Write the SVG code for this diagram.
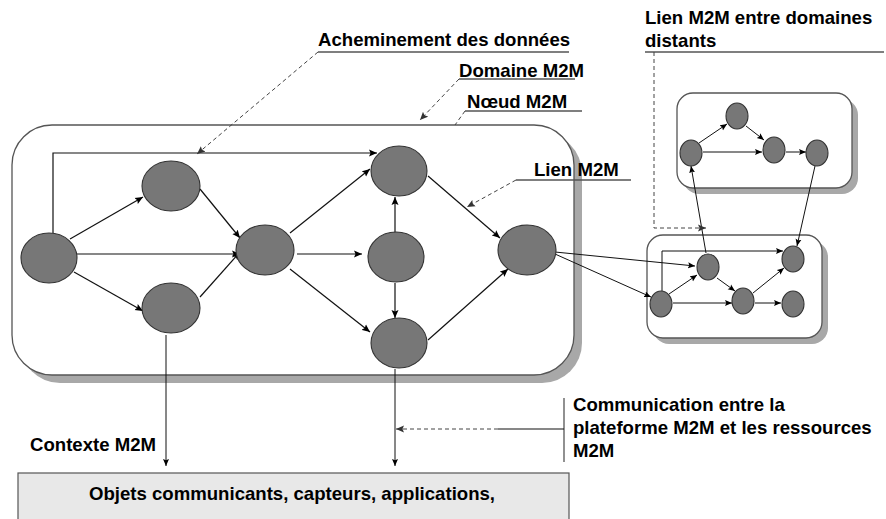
<svg xmlns="http://www.w3.org/2000/svg" width="886" height="519" viewBox="0 0 886 519">
<defs>
<marker id="ah" markerWidth="9" markerHeight="8" refX="8" refY="4" orient="auto" markerUnits="userSpaceOnUse">
<path d="M0,0.5 L8,4 L0,7.5 L1.5,4 z" fill="#000"/>
</marker>
<marker id="ahs" markerWidth="8" markerHeight="7" refX="7" refY="3.5" orient="auto" markerUnits="userSpaceOnUse">
<path d="M0,0.5 L7,3.5 L0,6.5 L1.3,3.5 z" fill="#000"/>
</marker>
<marker id="ahd" markerWidth="9" markerHeight="8" refX="8" refY="4" orient="auto" markerUnits="userSpaceOnUse">
<path d="M0,0.5 L8,4 L0,7.5 L1.5,4 z" fill="#333"/>
</marker>
</defs>
<style>
.box{fill:#fff;stroke:#555;stroke-width:1.3}
.shadow{fill:#a8a8a8}
.node{fill:#777;stroke:#333;stroke-width:1.1}
.e{fill:none;stroke:#111;stroke-width:1.2;marker-end:url(#ah)}
.es{fill:none;stroke:#111;stroke-width:1;marker-end:url(#ahs)}
.ln{fill:none;stroke:#111;stroke-width:1.2}
.dash{fill:none;stroke:#444;stroke-width:1;stroke-dasharray:4,3}
.dasha{fill:none;stroke:#444;stroke-width:1;stroke-dasharray:4,3;marker-end:url(#ahd)}
.ul{fill:none;stroke:#555;stroke-width:1.3}
.t{font-family:"Liberation Sans",Arial,sans-serif;font-weight:bold;font-size:18.6px;fill:#000}
</style>

<g id="domaine-principal">
<rect class="shadow" x="20" y="133" width="562" height="250" rx="40"/>
<rect class="box" x="12" y="125" width="562" height="250" rx="40"/>
</g>
<g id="domaine-b">
<rect class="shadow" x="653" y="241" width="175" height="103" rx="16"/>
<rect class="box" x="647" y="235" width="175" height="103" rx="16"/>
</g>
<g id="domaine-c">
<rect class="shadow" x="683" y="99" width="175" height="95" rx="16"/>
<rect class="box" x="677" y="93" width="175" height="95" rx="16"/>
</g>
<g id="ressources">
<rect x="18" y="473" width="551" height="60" fill="#e8e8e8" stroke="#555" stroke-width="1.2"/>
<text class="t" x="292" y="500" text-anchor="middle">Objets communicants, capteurs, applications,</text>
</g>

<g id="connecteurs">
<!-- main domain -->
<polyline class="e" points="53,233 53,153 377,153"/>
<line class="e" x1="70" y1="239" x2="143" y2="197"/>
<line class="e" x1="77" y1="254" x2="240" y2="254"/>
<line class="e" x1="74" y1="272" x2="143" y2="311"/>
<line class="e" x1="200" y1="189" x2="240" y2="238"/>
<line class="e" x1="200" y1="297" x2="240" y2="252"/>
<line class="e" x1="290" y1="233" x2="370" y2="169"/>
<line class="e" x1="297" y1="254" x2="362" y2="254"/>
<line class="e" x1="290" y1="269" x2="370" y2="332"/>
<line class="e" x1="395" y1="233" x2="395" y2="197"/>
<line class="e" x1="395" y1="283" x2="395" y2="318"/>
<line class="e" x1="428" y1="176" x2="500" y2="238"/>
<line class="e" x1="428" y1="340" x2="508" y2="269"/>
<!-- inter-domain -->
<line class="es" x1="555" y1="252" x2="695" y2="266"/>
<line class="es" x1="555" y1="254" x2="651" y2="297"/>
<line class="es" x1="706" y1="253" x2="691" y2="166"/>
<line class="es" x1="815" y1="166" x2="797" y2="246"/>
<!-- domain B -->
<polyline class="es" points="662,291 662,251 783,251"/>
<line class="es" x1="669" y1="294" x2="697" y2="275"/>
<line class="es" x1="673" y1="303" x2="732" y2="303"/>
<line class="es" x1="717" y1="278" x2="735" y2="291"/>
<line class="es" x1="753" y1="293" x2="784" y2="268"/>
<line class="es" x1="755" y1="303" x2="781" y2="303"/>
<!-- domain C -->
<line class="es" x1="699" y1="143" x2="727" y2="124"/>
<line class="es" x1="703" y1="152" x2="762" y2="152"/>
<line class="es" x1="746" y1="126" x2="764" y2="140"/>
<line class="es" x1="786" y1="152" x2="806" y2="152"/>
<!-- to resources -->
<line class="es" x1="166" y1="335" x2="166" y2="466"/>
<line class="es" x1="395" y1="369" x2="395" y2="466"/>
<!-- callouts -->
<line class="ul" x1="318" y1="52" x2="569" y2="52"/>
<line class="dasha" x1="318" y1="52" x2="197" y2="154"/>
<line class="ul" x1="459" y1="79" x2="575" y2="79"/>
<line class="dasha" x1="459" y1="79" x2="420" y2="120"/>
<line class="ul" x1="465" y1="111" x2="582" y2="111"/>
<line class="dash" x1="465" y1="111" x2="455" y2="125"/>
<line class="ul" x1="516" y1="180" x2="631" y2="180"/>
<line class="dasha" x1="516" y1="180" x2="467" y2="207"/>
<line class="ul" x1="645" y1="52" x2="884" y2="52"/>
<polyline class="dasha" points="654,52 654,228 706,228"/>
<line class="ul" x1="564" y1="398" x2="564" y2="462"/>
<line class="ln" x1="564" y1="429" x2="498" y2="429" stroke-width="1"/>
<line class="dasha" x1="498" y1="429" x2="396" y2="429"/>
</g>

<g id="n1"><ellipse class="node" cx="49" cy="258" rx="28" ry="25"/></g>
<g id="n2"><ellipse class="node" cx="171" cy="186" rx="29" ry="25"/></g>
<g id="n3"><ellipse class="node" cx="171" cy="308" rx="29" ry="25"/></g>
<g id="n4"><ellipse class="node" cx="265" cy="250" rx="29" ry="25"/></g>
<g id="n5"><ellipse class="node" cx="399" cy="171" rx="28" ry="25"/></g>
<g id="n6"><ellipse class="node" cx="396" cy="257" rx="28" ry="25"/></g>
<g id="n7"><ellipse class="node" cx="399" cy="343" rx="28" ry="25"/></g>
<g id="n8"><ellipse class="node" cx="527" cy="250" rx="29" ry="25"/></g>

<g id="b1"><ellipse class="node" cx="661" cy="304" rx="11" ry="13"/></g>
<g id="b2"><ellipse class="node" cx="708" cy="267" rx="11" ry="13"/></g>
<g id="b3"><ellipse class="node" cx="743" cy="301" rx="11" ry="13"/></g>
<g id="b4"><ellipse class="node" cx="793" cy="259" rx="11" ry="13"/></g>
<g id="b5"><ellipse class="node" cx="793" cy="304" rx="11" ry="13"/></g>

<g id="c1"><ellipse class="node" cx="691" cy="153" rx="11" ry="13"/></g>
<g id="c2"><ellipse class="node" cx="737" cy="116" rx="11" ry="13"/></g>
<g id="c3"><ellipse class="node" cx="774" cy="150" rx="11" ry="13"/></g>
<g id="c4"><ellipse class="node" cx="817" cy="153" rx="11" ry="13"/></g>

<g id="labels">
<text class="t" x="318" y="46">Acheminement des données</text>
<text class="t" x="459" y="77">Domaine M2M</text>
<text class="t" x="467" y="108">Nœud M2M</text>
<text class="t" x="534" y="176">Lien M2M</text>
<text class="t" x="645" y="24">Lien M2M entre domaines</text>
<text class="t" x="645" y="47">distants</text>
<text class="t" x="30" y="451">Contexte M2M</text>
<text class="t" x="573" y="411">Communication entre la</text>
<text class="t" x="573" y="434">plateforme M2M et les ressources</text>
<text class="t" x="573" y="457">M2M</text>
</g>
</svg>
